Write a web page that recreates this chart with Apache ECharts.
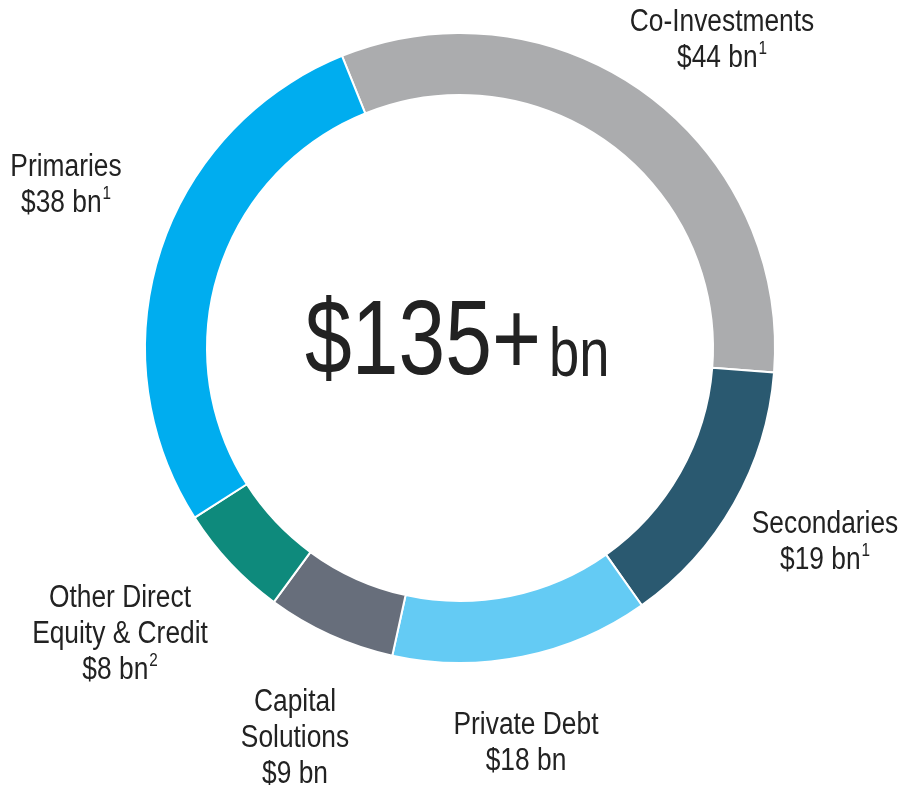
<!DOCTYPE html>
<html>
<head>
<meta charset="utf-8">
<script src="https://cdn.jsdelivr.net/npm/echarts@6/dist/echarts.min.js"></script>
<style>
  html, body { margin: 0; padding: 0; background: #fff; }
  #chart { width: 900px; height: 785px; }
</style>
</head>
<body>
<div id="chart"></div>
<script>
    // segment data, clockwise from the top
    var names = ['Co-Investments', 'Secondaries', 'Private Debt', 'Capital\nSolutions', 'Other Direct\nEquity & Credit', 'Primaries'];
    var values = [44, 19, 18, 9, 8, 38];
    var notes = ['1', '1', '', '', '2', '1'];
    var colors = ['#abacae', '#2a5970', '#64cbf4', '#676e7b', '#0e8a7c', '#00adef'];
    var totalText = '$135+';
    var totalUnit = 'bn';

    // label block centres (pixels)
    var labelPos = [[722, 40], [825, 542], [526, 743], [295, 738], [120, 634], [66, 185]];

    var font = '"Liberation Sans", Arial, sans-serif';
    var narrow = 0.85;
    var chart = echarts.init(document.getElementById('chart'));

    var data = [];
    for (var i = 0; i < values.length; i++) {
        data.push({name: names[i], value: values[i], itemStyle: {color: colors[i]}});
    }

    function labelText(i) {
        var lines = names[i].split('\n');
        var s = '{t|' + lines.join('}\n{t|') + '}\n{t|$' + values[i] + ' bn}';
        if (notes[i]) {
            s += '{s|' + notes[i] + '}';
        }
        return s;
    }

    var graphics = [
        {
            type: 'text', x: 541, y: 345, scaleX: 0.8,
            style: {text: totalText, fontFamily: font, fontSize: 105, fill: '#222',
                align: 'right', verticalAlign: 'middle'}
        },
        {
            type: 'text', x: 549, y: 357, scaleX: 0.8,
            style: {text: totalUnit, fontFamily: font, fontSize: 68, fill: '#222',
                align: 'left', verticalAlign: 'middle'}
        }
    ];
    for (var j = 0; j < names.length; j++) {
        graphics.push({
            type: 'text', x: labelPos[j][0], y: labelPos[j][1], scaleX: narrow,
            style: {
                text: labelText(j), align: 'center', verticalAlign: 'middle',
                rich: {
                    t: {fontFamily: font, fontSize: 31, lineHeight: 36, fill: '#222', align: 'center'},
                    s: {fontFamily: font, fontSize: 18, lineHeight: 36, fill: '#222',
                        verticalAlign: 'top', padding: [0, 0, 14, 1]}
                }
            }
        });
    }

    var option = {
        animation: false,
        graphic: graphics,
        series: [{
            type: 'pie',
            center: [460, 348],
            radius: [253, 315],
            startAngle: 112,
            clockwise: true,
            itemStyle: {borderColor: '#fff', borderWidth: 2},
            emphasis: {disabled: true},
            label: {show: false},
            labelLine: {show: false},
            data: data
        }]
    };

    chart.setOption(option);
</script>
</body>
</html>
